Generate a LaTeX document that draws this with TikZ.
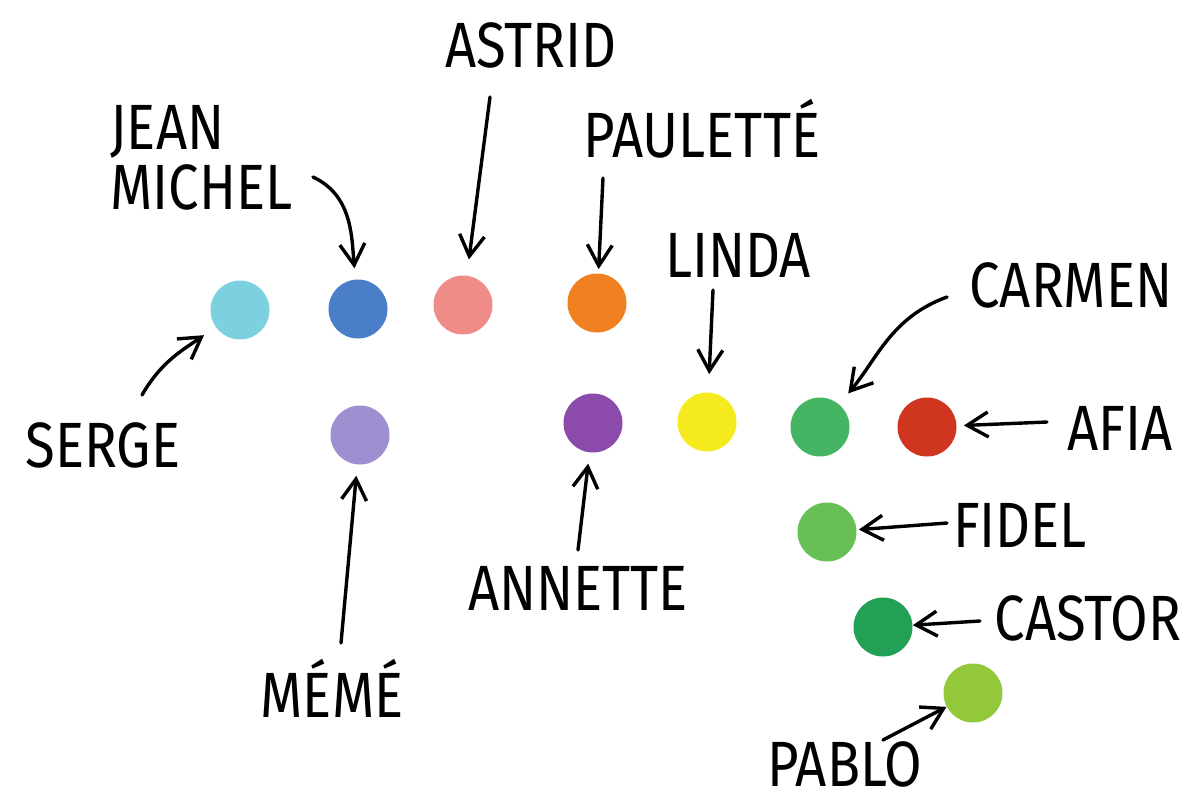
\documentclass[tikz,border=0pt]{standalone}
\usepackage{fontspec}
\usetikzlibrary{arrows.meta}
\newfontfamily\namefont[FakeStretch=0.85]{Fira Sans}

\definecolor{sergec}{HTML}{7DD0E0}
\definecolor{jeanc}{HTML}{4A7EC8}
\definecolor{astridc}{HTML}{F08C88}
\definecolor{paulettec}{HTML}{F08020}
\definecolor{lindac}{HTML}{F5EA1E}
\definecolor{carmenc}{HTML}{45B563}
\definecolor{afiac}{HTML}{D03520}
\definecolor{fidelc}{HTML}{66C055}
\definecolor{castorc}{HTML}{22A055}
\definecolor{pabloc}{HTML}{92C83A}
\definecolor{memec}{HTML}{A08FD0}
\definecolor{annettec}{HTML}{8C4BAA}

\tikzset{
	dot/.style={circle, minimum size=29.5pt, inner sep=0pt},
	who/.style={font=\fontsize{32}{30}\selectfont\namefont, inner sep=0pt, anchor=base},
	pointer/.style={-{Straight Barb[length=10.5pt,width=12.5pt]}, line width=1.7pt, line cap=round},
}

\begin{document}
\begin{tikzpicture}[x=0.5pt, y=-0.5pt]
		\useasboundingbox (0, 0) rectangle (1196, 805);
		% dots
		\node[dot, fill=sergec] (sergedot) at (240, 310) {};
		\node[dot, fill=jeanc] (jeandot) at (358, 309) {};
		\node[dot, fill=astridc] (astriddot) at (463, 305) {};
		\node[dot, fill=paulettec] (paulettedot) at (597, 303) {};
		\node[dot, fill=memec] (memedot) at (360, 435) {};
		\node[dot, fill=annettec] (annettedot) at (593, 423) {};
		\node[dot, fill=lindac] (lindadot) at (707, 422) {};
		\node[dot, fill=carmenc] (carmendot) at (820, 427) {};
		\node[dot, fill=afiac] (afiadot) at (927, 427) {};
		\node[dot, fill=fidelc] (fideldot) at (827, 532) {};
		\node[dot, fill=castorc] (castordot) at (883, 627) {};
		\node[dot, fill=pabloc] (pablodot) at (973, 693) {};
		% names
		\node[who, anchor=north west, align=left] (jean) at (110, 105) {JEAN\\MICHEL};
		\node[who] (astrid) at (531, 67) {ASTRID};
		\node[who] (paulette) at (702, 157) {PAULETTÉ};
		\node[who] (linda) at (738, 277) {LINDA};
		\node[who] (carmen) at (1071, 307) {CARMEN};
		\node[who] (afia) at (1120, 450) {AFIA};
		\node[who] (fidel) at (1020, 547) {FIDEL};
		\node[who] (castor) at (1088, 640) {CASTOR};
		\node[who] (pablo) at (845, 786) {PABLO};
		\node[who] (annette) at (578, 610) {ANNETTE};
		\node[who] (meme) at (332, 717) {MÉMÉ};
		\node[who] (serge) at (103, 467) {SERGE};
		% arrow tails
		\coordinate (sergetail) at (142, 395);
		\coordinate (jeantail) at (313, 177);
		\coordinate (astridtail) at (490, 97);
		\coordinate (paulettetail) at (603, 178);
		\coordinate (lindatail) at (713, 290);
		\coordinate (carmentail) at (947, 297);
		\coordinate (afiatail) at (1047, 422);
		\coordinate (fideltail) at (947, 523);
		\coordinate (castortail) at (980, 621);
		\coordinate (pablotail) at (883, 740);
		\coordinate (annettetail) at (578, 550);
		\coordinate (memetail) at (341, 643);
		% arrows
		\draw[pointer, shorten >=7pt] (sergetail) to[out=60, in=215] (sergedot);
		\draw[pointer, shorten >=5.5pt] (jeantail) to[out=-25, in=95] (jeandot);
		\draw[pointer, shorten >=8pt] (astridtail) -- (astriddot);
		\draw[pointer, shorten >=2pt] (paulettetail) -- (paulettedot);
		\draw[pointer, shorten >=9pt] (lindatail) -- (lindadot);
		\draw[pointer, shorten >=7pt] (carmentail) to[out=200, in=50] (carmendot);
		\draw[pointer, shorten >=3.5pt] (afiatail) -- (afiadot);
		\draw[pointer, shorten >=1pt] (fideltail) -- (fideldot);
		\draw[pointer] (castortail) -- (castordot);
		\draw[pointer] (pablotail) -- (pablodot);
		\draw[pointer, shorten >=5.5pt] (annettetail) -- (annettedot);
		\draw[pointer, shorten >=5.5pt] (memetail) -- (memedot);
	\end{tikzpicture}
\end{document}
